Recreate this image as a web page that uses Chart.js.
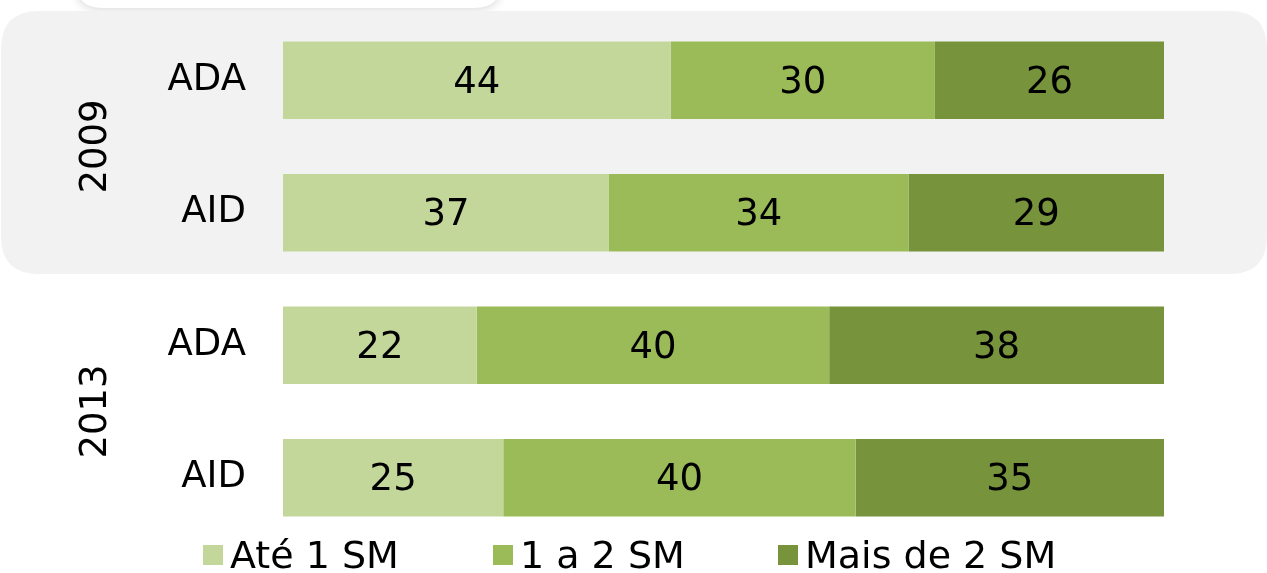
<!DOCTYPE html>
<html>
<head>
<meta charset="utf-8">
<script src="https://cdn.jsdelivr.net/npm/chart.js@4"></script>
<style>
  html, body { margin: 0; padding: 0; background: #fff; }
  #wrap { width: 1267px; height: 573px; position: relative; }
</style>
</head>
<body>
<div id="wrap"><canvas id="myChart" width="1267" height="573"></canvas></div>
<script>
// Dados
const categories = ["ADA", "AID", "ADA", "AID"];
const years = ["2009", "2013"];
const seriesNames = ["Até 1 SM", "1 a 2 SM", "Mais de 2 SM"];
const ate1 = [44, 37, 22, 25];
const de1a2 = [30, 34, 40, 40];
const mais2 = [26, 29, 38, 35];
const colors = ["#c4d79b", "#9bbb59", "#77933c"];

const FONT = "'DejaVu Sans', Verdana, sans-serif";

const roundRect = (c, x, y, w, h, r) => {
  c.beginPath();
  c.moveTo(x + r, y);
  c.lineTo(x + w - r, y);
  c.quadraticCurveTo(x + w, y, x + w, y + r);
  c.lineTo(x + w, y + h - r);
  c.quadraticCurveTo(x + w, y + h, x + w - r, y + h);
  c.lineTo(x + r, y + h);
  c.quadraticCurveTo(x, y + h, x, y + h - r);
  c.lineTo(x, y + r);
  c.quadraticCurveTo(x, y, x + r, y);
  c.closePath();
};

// fundo cinza atrás de 2009 + caixa de cima
const backgroundPlugin = {
  id: "fundo",
  beforeDraw(chart) {
    const c = chart.ctx;
    c.save();
    c.fillStyle = "#fff";
    c.fillRect(0, 0, chart.width, chart.height);
    // caixa parcial no topo
    c.shadowColor = "rgba(0,0,0,0.15)";
    c.shadowBlur = 10;
    c.shadowOffsetY = 2;
    c.fillStyle = "#fff";
    roundRect(c, 75, -60, 427, 68, 28);
    c.fill();
    c.restore();

    c.save();
    c.fillStyle = "#f2f2f2";
    roundRect(c, 1, 11, 1266, 263, 38);
    c.fill();
    c.restore();
  },
};

// rótulos de valores, anos e legenda
const labelsPlugin = {
  id: "rotulos",
  afterDatasetsDraw(chart) {
    const c = chart.ctx;
    c.save();
    c.font = "37px " + FONT;
    c.fillStyle = "#000";
    c.textAlign = "center";
    c.textBaseline = "middle";
    chart.data.datasets.forEach((ds, i) => {
      const meta = chart.getDatasetMeta(i);
      meta.data.forEach((bar, j) => {
        const p = bar.getCenterPoint();
        c.fillText(ds.data[j], p.x, p.y + 3);
      });
    });

    // anos
    const y = chart.scales.y;
    years.forEach((yr, k) => {
      const cy = (y.getPixelForValue(k * 2) + y.getPixelForValue(k * 2 + 1)) / 2;
      c.save();
      c.translate(96, cy);
      c.rotate(-Math.PI / 2);
      c.fillText(yr, 0, 0);
      c.restore();
    });

    // legenda
    const xs = [203, 493, 778];
    c.font = "38px " + FONT;
    c.textAlign = "left";
    c.textBaseline = "alphabetic";
    chart.data.datasets.forEach((ds, i) => {
      c.fillStyle = ds.backgroundColor;
      c.fillRect(xs[i], 545, 20, 20);
      c.fillStyle = "#000";
      c.fillText(ds.label, xs[i] + 27, 568);
    });
    c.restore();
  },
};

const ctx = document.getElementById("myChart").getContext("2d");
const values = [ate1, de1a2, mais2];

new Chart(ctx, {
  type: "bar",
  data: {
    labels: categories,
    datasets: seriesNames.map((name, i) => ({
      label: name,
      data: values[i],
      backgroundColor: colors[i],
      borderWidth: 0,
      barPercentage: 0.585,
      categoryPercentage: 1,
    })),
  },
  options: {
    indexAxis: "y",
    responsive: false,
    animation: false,
    devicePixelRatio: 1,
    layout: { padding: { top: 14, bottom: 29, left: 0, right: 103 } },
    scales: {
      x: {
        stacked: true,
        min: 0,
        max: 100,
        display: false,
      },
      y: {
        stacked: true,
        grid: { display: false, drawTicks: false },
        border: { display: false },
        ticks: {
          color: "#000",
          padding: 37,
          font: { family: FONT, size: 37 },
        },
        afterFit(scale) {
          scale.width = 283;
          scale.paddingTop = 0;
          scale.paddingBottom = 0;
        },
      },
    },
    plugins: {
      legend: { display: false },
      tooltip: { enabled: false },
    },
  },
  plugins: [backgroundPlugin, labelsPlugin],
});
</script>
</body>
</html>
